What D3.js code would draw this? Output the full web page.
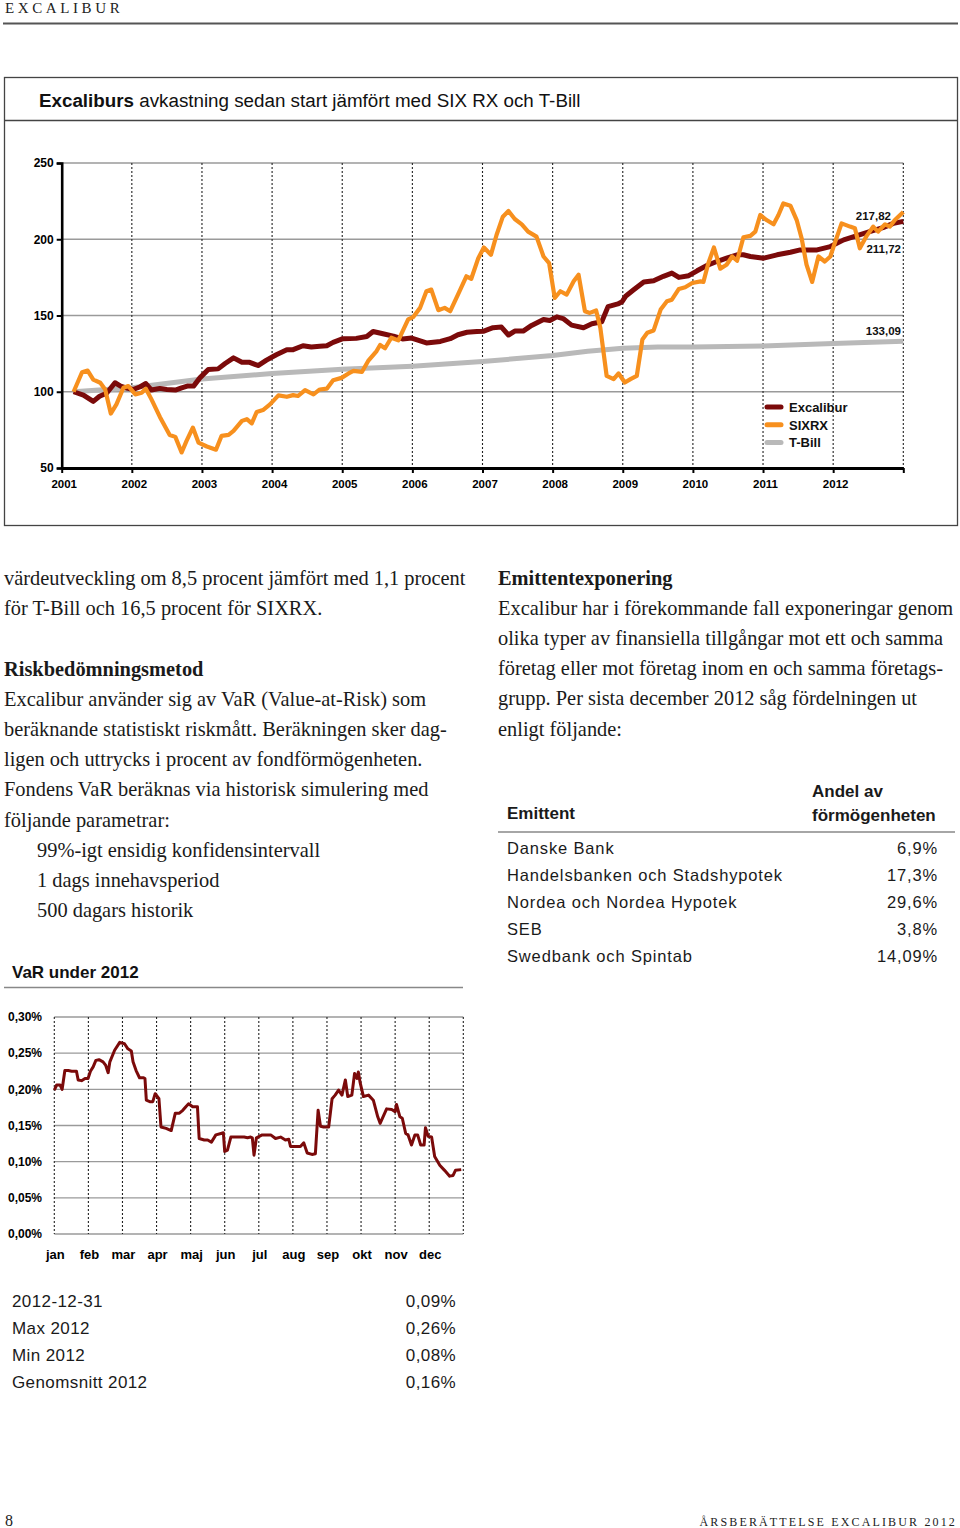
<!DOCTYPE html>
<html><head><meta charset="utf-8">
<script src="https://cdn.jsdelivr.net/npm/d3@7"></script>
<style>
body{margin:0;background:#fff;}
svg{display:block;}
</style>
</head><body>
<svg id="page" width="960" height="1528"></svg>
<script>
// ---------- DATA ----------
const seriesNames = ["Excalibur","SIXRX","T-Bill"];
const excaliburData = [[2001.17,100],[2001.31,97.8],[2001.45,93.7],[2001.54,97.0],[2001.64,99.0],[2001.76,105.9],[2001.84,103.7],[2001.94,102.2],[2002.02,101.5],[2002.12,103.3],[2002.20,105.4],[2002.28,101.1],[2002.40,102.2],[2002.50,101.5],[2002.62,101.1],[2002.71,102.6],[2002.79,103.7],[2002.88,103.7],[2002.97,109.1],[2003.09,114.6],[2003.23,115.0],[2003.33,118.5],[2003.45,122.2],[2003.57,119.3],[2003.68,119.3],[2003.80,117.2],[2003.92,120.7],[2004.06,124.3],[2004.21,127.6],[2004.30,127.6],[2004.44,130.2],[2004.56,129.3],[2004.68,129.8],[2004.78,130.2],[2004.87,132.4],[2005.01,134.8],[2005.20,135.0],[2005.35,136.2],[2005.44,139.5],[2005.58,138.0],[2005.73,136.5],[2005.86,134.6],[2005.99,135.2],[2006.20,132.0],[2006.40,133.0],[2006.54,134.8],[2006.65,137.4],[2006.78,139.0],[2006.92,139.5],[2007.01,139.6],[2007.15,142.0],[2007.27,142.4],[2007.37,137.2],[2007.46,139.8],[2007.58,139.8],[2007.70,143.5],[2007.87,147.4],[2007.96,146.7],[2008.06,149.1],[2008.15,148.0],[2008.27,143.7],[2008.44,142.0],[2008.56,144.6],[2008.70,145.9],[2008.79,155.8],[2008.93,157.6],[2008.99,159.0],[2009.04,162.6],[2009.16,167.0],[2009.30,172.0],[2009.44,172.8],[2009.58,175.7],[2009.70,177.8],[2009.80,175.0],[2009.94,176.1],[2010.06,179.3],[2010.20,182.8],[2010.34,185.4],[2010.48,187.6],[2010.63,189.8],[2010.72,189.8],[2010.82,188.7],[2011.01,187.6],[2011.20,189.8],[2011.39,191.5],[2011.53,193.0],[2011.77,193.0],[2011.96,195.2],[2012.15,199.6],[2012.33,202.2],[2012.52,205.0],[2012.71,207.6],[2012.86,210.4],[2013.0,211.72]];
const sixrxData = [[2001.17,100],[2001.29,112.8],[2001.37,113.9],[2001.45,108.0],[2001.55,105.9],[2001.62,101.5],[2001.70,85.7],[2001.78,91.7],[2001.88,102.6],[2001.95,103.7],[2002.05,98.3],[2002.14,99.3],[2002.20,102.0],[2002.28,95.0],[2002.40,83.5],[2002.54,71.7],[2002.62,70.4],[2002.71,60.2],[2002.78,67.8],[2002.87,76.5],[2002.95,66.7],[2003.07,64.1],[2003.20,62.0],[2003.28,71.1],[2003.38,71.7],[2003.45,74.3],[2003.57,80.9],[2003.64,82.0],[2003.71,79.3],[2003.78,86.7],[2003.87,88.0],[2003.97,91.7],[2004.09,97.6],[2004.21,96.7],[2004.30,97.8],[2004.37,97.2],[2004.47,101.1],[2004.59,98.3],[2004.68,101.5],[2004.78,102.0],[2004.87,107.6],[2004.99,109.1],[2005.09,112.0],[2005.16,113.7],[2005.28,113.0],[2005.37,120.2],[2005.49,126.7],[2005.54,130.7],[2005.61,128.5],[2005.70,135.4],[2005.80,133.7],[2005.94,147.4],[2006.01,148.9],[2006.11,155.0],[2006.20,165.9],[2006.27,167.0],[2006.37,153.5],[2006.46,155.0],[2006.54,152.8],[2006.65,163.7],[2006.77,175.7],[2006.84,174.1],[2006.94,187.6],[2007.02,194.6],[2007.12,189.8],[2007.20,202.8],[2007.29,214.8],[2007.37,218.5],[2007.46,213.3],[2007.56,209.8],[2007.65,205.0],[2007.77,201.7],[2007.87,188.7],[2007.95,184.3],[2008.03,161.5],[2008.11,165.9],[2008.20,163.7],[2008.30,172.4],[2008.37,176.7],[2008.46,152.8],[2008.53,151.7],[2008.62,153.3],[2008.68,142.0],[2008.77,110.4],[2008.87,108.3],[2008.94,112.0],[2009.03,106.1],[2009.11,108.3],[2009.20,110.4],[2009.28,134.3],[2009.35,138.7],[2009.44,140.2],[2009.54,153.9],[2009.63,159.3],[2009.70,160.4],[2009.80,167.4],[2009.89,168.5],[2009.99,171.3],[2010.11,172.4],[2010.15,172.0],[2010.22,184.3],[2010.30,194.6],[2010.39,180.7],[2010.48,183.3],[2010.56,188.7],[2010.63,185.9],[2010.72,201.3],[2010.82,202.2],[2010.89,205.0],[2010.96,215.9],[2011.05,212.6],[2011.15,209.8],[2011.22,215.9],[2011.29,223.5],[2011.39,222.0],[2011.48,212.6],[2011.55,200.7],[2011.62,183.3],[2011.70,172.0],[2011.79,188.7],[2011.88,185.4],[2011.96,188.7],[2012.03,198.5],[2012.12,210.4],[2012.24,208.3],[2012.31,207.2],[2012.38,194.1],[2012.48,202.4],[2012.57,208.3],[2012.64,205.0],[2012.74,209.8],[2012.81,208.3],[2012.88,212.6],[2013.0,217.82]];
const tbillData = [[2001.17,100],[2002.0,102.6],[2003.0,108.3],[2004.0,112.0],[2005.0,114.8],[2006.0,116.8],[2007.0,119.8],[2008.0,123.8],[2008.5,126.5],[2009.0,128.5],[2009.5,129.3],[2010.0,129.4],[2011.0,130.0],[2012.0,131.6],[2013.0,133.09]];
const yearTicks = [2001,2002,2003,2004,2005,2006,2007,2008,2009,2010,2011,2012,2013];
const mainYTicks = [50,100,150,200,250];
const endLabels = ["217,82","211,72","133,09"];
const endValues = [217.82,211.72,133.09];

const varMonths = ["jan","feb","mar","apr","maj","jun","jul","aug","sep","okt","nov","dec"];
const varYTicks = [0,0.05,0.10,0.15,0.20,0.25,0.30];
const varData = [[0.00,0.199],[0.07,0.206],[0.17,0.206],[0.23,0.200],[0.31,0.226],[0.41,0.226],[0.51,0.225],[0.65,0.225],[0.70,0.213],[0.80,0.212],[0.90,0.215],[0.99,0.215],[1.06,0.225],[1.14,0.231],[1.22,0.240],[1.31,0.241],[1.43,0.238],[1.51,0.233],[1.58,0.223],[1.63,0.238],[1.77,0.254],[1.92,0.265],[2.06,0.263],[2.16,0.256],[2.26,0.253],[2.31,0.238],[2.40,0.226],[2.50,0.216],[2.62,0.216],[2.66,0.215],[2.70,0.185],[2.80,0.183],[2.89,0.183],[2.96,0.194],[3.07,0.187],[3.13,0.148],[3.28,0.146],[3.43,0.143],[3.55,0.167],[3.67,0.167],[3.77,0.171],[3.86,0.176],[3.94,0.180],[4.06,0.176],[4.20,0.176],[4.25,0.132],[4.40,0.130],[4.50,0.130],[4.61,0.127],[4.74,0.137],[4.89,0.139],[4.96,0.140],[5.00,0.114],[5.08,0.116],[5.18,0.134],[5.33,0.134],[5.57,0.134],[5.67,0.133],[5.76,0.134],[5.81,0.133],[5.86,0.109],[5.93,0.133],[6.10,0.137],[6.35,0.137],[6.49,0.132],[6.64,0.134],[6.78,0.130],[6.88,0.131],[6.93,0.121],[7.22,0.121],[7.32,0.126],[7.42,0.112],[7.56,0.110],[7.66,0.111],[7.74,0.171],[7.81,0.149],[7.90,0.148],[8.05,0.148],[8.15,0.187],[8.24,0.192],[8.34,0.199],[8.44,0.192],[8.54,0.213],[8.61,0.190],[8.73,0.192],[8.81,0.222],[8.88,0.215],[8.92,0.224],[8.97,0.210],[9.07,0.190],[9.22,0.192],[9.36,0.185],[9.49,0.162],[9.56,0.153],[9.75,0.173],[9.90,0.172],[10.00,0.169],[10.04,0.179],[10.14,0.162],[10.21,0.160],[10.31,0.139],[10.38,0.137],[10.48,0.123],[10.58,0.137],[10.66,0.137],[10.75,0.123],[10.85,0.123],[10.89,0.147],[10.97,0.135],[11.07,0.134],[11.16,0.107],[11.31,0.095],[11.45,0.088],[11.60,0.080],[11.70,0.081],[11.77,0.088],[11.94,0.089]];

const issuerNames = ["Danske Bank","Handelsbanken och Stadshypotek","Nordea och Nordea Hypotek","SEB","Swedbank och Spintab"];
const issuerShares = ["6,9%","17,3%","29,6%","3,8%","14,09%"];
const statLabels = ["2012-12-31","Max 2012","Min 2012","Genomsnitt 2012"];
const statValues = ["0,09%","0,26%","0,08%","0,16%"];

const leftText = [
 {t:"värdeutveckling om 8,5 procent jämfört med 1,1 procent"},
 {t:"för T-Bill och 16,5 procent för SIXRX."},
 {t:""},
 {t:"Riskbedömningsmetod",b:true},
 {t:"Excalibur använder sig av VaR (Value-at-Risk) som"},
 {t:"beräknande statistiskt riskmått. Beräkningen sker dag-"},
 {t:"ligen och uttrycks i procent av fondförmögenheten."},
 {t:"Fondens VaR beräknas via historisk simulering med"},
 {t:"följande parametrar:"},
 {t:"99%-igt ensidig konfidensintervall",i:true},
 {t:"1 dags innehavsperiod",i:true},
 {t:"500 dagars historik",i:true}
];
const rightText = [
 {t:"Emittentexponering",b:true},
 {t:"Excalibur har i förekommande fall exponeringar genom"},
 {t:"olika typer av finansiella tillgångar mot ett och samma"},
 {t:"företag eller mot företag inom en och samma företags-"},
 {t:"grupp. Per sista december 2012 såg fördelningen ut"},
 {t:"enligt följande:"}
];

// ---------- DRAW ----------
const svg = d3.select("#page");
const SANS = '"Liberation Sans",Arial,sans-serif';
const SERIF = '"Liberation Serif","Times New Roman",serif';

// Header
svg.append("text").attr("x",5).attr("y",13).attr("font-family",SERIF).attr("font-size",15)
  .attr("letter-spacing",3.6).attr("fill","#222").text("EXCALIBUR");
svg.append("line").attr("x1",3).attr("x2",958).attr("y1",23.5).attr("y2",23.5)
  .attr("stroke","#555").attr("stroke-width",2);

// Main chart frame
svg.append("rect").attr("x",4.5).attr("y",77.5).attr("width",953).attr("height",448)
  .attr("fill","none").attr("stroke","#444").attr("stroke-width",1.3);
svg.append("line").attr("x1",4.5).attr("x2",957.5).attr("y1",120.5).attr("y2",120.5)
  .attr("stroke","#444").attr("stroke-width",1.3);
const title = svg.append("text").attr("x",39).attr("y",107).attr("font-family",SANS)
  .attr("font-size",18.8).attr("fill","#111");
title.append("tspan").attr("font-weight","bold").text("Excaliburs");
title.append("tspan").text(" avkastning sedan start jämfört med SIX RX och T-Bill");

const x = d3.scaleLinear().domain([2001,2013]).range([61.7,903.3]);
const y = d3.scaleLinear().domain([50,250]).range([468,163]);
const g = svg.append("g");

// horizontal grid
g.append("g").selectAll("line").data(mainYTicks.filter(d=>d>50)).join("line")
  .attr("x1",x(2001)).attr("x2",x(2013)).attr("y1",d=>y(d)).attr("y2",d=>y(d))
  .attr("stroke","#9a9a9a").attr("stroke-width",1.4);
// vertical dotted grid
g.append("g").selectAll("line").data(yearTicks.slice(1)).join("line")
  .attr("x1",d=>x(d)).attr("x2",d=>x(d)).attr("y1",y(250)).attr("y2",y(50))
  .attr("stroke","#222").attr("stroke-width",1.1).attr("stroke-dasharray","2,2");

// lines
const line = d3.line().x(d=>x(d[0])).y(d=>y(d[1])).curve(d3.curveLinear);
g.append("path").datum(tbillData).attr("d",line).attr("fill","none")
  .attr("stroke","#b9b9b9").attr("stroke-width",5).attr("stroke-linejoin","round");
g.append("path").datum(excaliburData).attr("d",line).attr("fill","none")
  .attr("stroke","#7b0a0a").attr("stroke-width",5).attr("stroke-linejoin","round");
g.append("path").datum(sixrxData).attr("d",line).attr("fill","none")
  .attr("stroke","#f7901e").attr("stroke-width",4.2).attr("stroke-linejoin","round");

// axes
const yAxis = d3.axisLeft(y).tickValues(mainYTicks).tickSize(5).tickFormat(d3.format("d"));
const ya = g.append("g").attr("transform",`translate(${x(2001)},0)`).call(yAxis);
ya.select(".domain").attr("stroke","#000").attr("stroke-width",2.6);
ya.selectAll(".tick line").attr("stroke","#000").attr("stroke-width",2);
ya.selectAll(".tick text").attr("font-family",SANS).attr("font-weight","bold").attr("font-size",12).attr("fill","#000").attr("x",-8);

const xAxis = d3.axisBottom(x).tickValues(yearTicks).tickSize(5).tickSizeOuter(0)
  .tickFormat(d=> d<2013 ? String(d) : "");
const xa = g.append("g").attr("transform",`translate(0,${y(50)})`).call(xAxis);
xa.select(".domain").attr("stroke","#000").attr("stroke-width",3);
xa.selectAll(".tick line").attr("stroke","#000").attr("stroke-width",2);
xa.selectAll(".tick text").attr("font-family",SANS).attr("font-weight","bold").attr("font-size",11.5).attr("fill","#000").attr("dy","1em").attr("dx",2);

// end labels
const endAnchors = [[891,8],[901,32],[901,-6]];
g.selectAll(".endlab").data(endLabels).join("text").attr("class","endlab")
  .attr("x",(d,i)=>endAnchors[i][0]).attr("y",(d,i)=>y(endValues[i])+endAnchors[i][1])
  .attr("text-anchor","end").attr("font-family",SANS).attr("font-weight","bold")
  .attr("font-size",11.5).attr("fill","#111").text(d=>d);

// legend
const legColors = ["#7b0a0a","#f7901e","#b9b9b9"];
const leg = g.append("g").attr("transform","translate(767,407)");
leg.selectAll("line").data(seriesNames).join("line")
  .attr("x1",0).attr("x2",14).attr("y1",(d,i)=>i*17.7).attr("y2",(d,i)=>i*17.7)
  .attr("stroke",(d,i)=>legColors[i]).attr("stroke-width",5).attr("stroke-linecap","round");
leg.selectAll("text").data(seriesNames).join("text")
  .attr("x",22).attr("y",(d,i)=>i*17.7+5).attr("font-family",SANS).attr("font-weight","bold")
  .attr("font-size",13).attr("fill","#111").text(d=>d);

// Body text
const FS = 20.4;
svg.append("g").selectAll("text").data(leftText).join("text")
  .attr("x",d=>d.i?37:4).attr("y",(d,i)=>585+i*30.2)
  .attr("font-family",SERIF).attr("font-size",FS).attr("font-weight",d=>d.b?"bold":"normal")
  .attr("fill","#1a1a1a").text(d=>d.t);
svg.append("g").selectAll("text").data(rightText).join("text")
  .attr("x",498).attr("y",(d,i)=>585+i*30.1)
  .attr("font-family",SERIF).attr("font-size",FS).attr("font-weight",d=>d.b?"bold":"normal")
  .attr("fill","#1a1a1a").text(d=>d.t);

// Issuer table
const tbl = svg.append("g").attr("font-family",SANS).attr("fill","#1a1a1a");
tbl.append("text").attr("x",507).attr("y",819).attr("font-weight","bold").attr("font-size",17).text("Emittent");
tbl.append("text").attr("x",812).attr("y",797).attr("font-weight","bold").attr("font-size",17).text("Andel av");
tbl.append("text").attr("x",812).attr("y",821).attr("font-weight","bold").attr("font-size",17).text("förmögenheten");
svg.append("line").attr("x1",498).attr("x2",955).attr("y1",832).attr("y2",832).attr("stroke","#888").attr("stroke-width",1.5);
tbl.selectAll(".iname").data(issuerNames).join("text").attr("class","iname")
  .attr("x",507).attr("y",(d,i)=>853.5+i*27.1).attr("font-size",16.5).attr("letter-spacing",0.85).text(d=>d);
tbl.selectAll(".ival").data(issuerShares).join("text").attr("class","ival")
  .attr("x",938).attr("y",(d,i)=>853.5+i*27.1).attr("text-anchor","end").attr("font-size",16.5).attr("letter-spacing",0.85).text(d=>d);

// VaR title
svg.append("text").attr("x",12).attr("y",978).attr("font-family",SANS).attr("font-weight","bold")
  .attr("font-size",17).attr("fill","#111").text("VaR under 2012");
svg.append("line").attr("x1",4).attr("x2",463).attr("y1",987.5).attr("y2",987.5).attr("stroke","#888").attr("stroke-width",1.5);

// VaR chart
const vx = d3.scaleLinear().domain([0,12]).range([54.3,463.3]);
const vy = d3.scaleLinear().domain([0,0.30]).range([1234,1017]);
const vg = svg.append("g");
vg.selectAll(".hg").data(varYTicks).join("line").attr("class","hg")
  .attr("x1",vx(0)).attr("x2",vx(12)).attr("y1",d=>vy(d)).attr("y2",d=>vy(d))
  .attr("stroke","#9a9a9a").attr("stroke-width",1.4);
vg.selectAll(".vgl").data(d3.range(0,13)).join("line").attr("class","vgl")
  .attr("x1",d=>vx(d)).attr("x2",d=>vx(d)).attr("y1",vy(0.30)).attr("y2",vy(0))
  .attr("stroke","#222").attr("stroke-width",1.1).attr("stroke-dasharray","2,2");
const vline = d3.line().x(d=>vx(d[0])).y(d=>vy(d[1]));
vg.append("path").datum(varData).attr("d",vline).attr("fill","none")
  .attr("stroke","#7b0a0a").attr("stroke-width",3).attr("stroke-linejoin","round");
vg.selectAll(".vyl").data(varYTicks).join("text").attr("class","vyl")
  .attr("x",42).attr("y",d=>vy(d)).attr("dy","0.35em").attr("text-anchor","end")
  .attr("font-family",SANS).attr("font-weight","bold").attr("font-size",12).attr("fill","#000")
  .text(d=>d3.format(".2f")(d).replace(".",",")+"%");
vg.selectAll(".vxl").data(varMonths).join("text").attr("class","vxl")
  .attr("x",(d,i)=>vx(i)+1).attr("y",1259).attr("text-anchor","middle")
  .attr("font-family",SANS).attr("font-weight","bold").attr("font-size",13).attr("fill","#000").text(d=>d);

// Stats table
const st = svg.append("g").attr("font-family",SANS).attr("font-size",17).attr("fill","#1a1a1a").attr("letter-spacing",0.4);
st.selectAll(".sl").data(statLabels).join("text").attr("class","sl")
  .attr("x",12).attr("y",(d,i)=>1306.5+i*27.2).text(d=>d);
st.selectAll(".sv").data(statValues).join("text").attr("class","sv")
  .attr("x",456).attr("y",(d,i)=>1306.5+i*27.2).attr("text-anchor","end").text(d=>d);

// Footer
svg.append("text").attr("x",5).attr("y",1526).attr("font-family",SERIF).attr("font-size",16).attr("fill","#222").text("8");
svg.append("text").attr("x",957).attr("y",1526).attr("text-anchor","end").attr("font-family",SERIF)
  .attr("font-size",12).attr("letter-spacing",2.15).attr("fill","#222").text("ÅRSBERÄTTELSE EXCALIBUR 2012");
</script>
</body></html>
